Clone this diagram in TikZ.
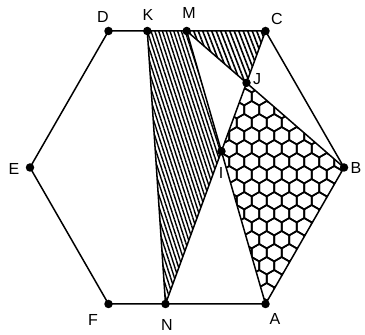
\documentclass[tikz,border=0pt]{standalone}
\usepackage{fontspec}
\setmainfont{Liberation Sans}
\usetikzlibrary{patterns.meta,calc}
\begin{document}
\begin{tikzpicture}[x=1pt,y=1pt,
  edge/.style={line width=1.5pt,line join=round},
  dot/.style={circle,fill=black,inner sep=0pt,minimum size=8.5pt},
  lbl/.style={font=\fontsize{16}{16}\selectfont,inner sep=0pt},
  hexline/.style={line width=1.6pt}]
\useasboundingbox (0,0) rectangle (365,335);
% vertices
\coordinate (A) at (265.5,31);
\coordinate (B) at (344,167.5);
\coordinate (C) at (265.5,304);
\coordinate (D) at (108.5,304);
\coordinate (E) at (30,167.5);
\coordinate (F) at (108.5,31);
\coordinate (K) at (147.3,304);
\coordinate (M) at (186.7,304);
\coordinate (N) at (165.5,31);
\coordinate (J) at (intersection of M--B and N--C);
\coordinate (I) at (intersection of M--A and N--C);
% hatched regions
\fill[pattern={Lines[angle=108,distance=3.6pt,line width=1.4pt]}] (K)--(M)--(I)--(N)--cycle;
\fill[pattern={Lines[angle=111,distance=4.2pt,line width=1.6pt]}] (M)--(C)--(J)--cycle;
% honeycomb
\begin{scope}
\clip (J)--(B)--(A)--(I)--cycle;
\foreach \j in {-12,...,8}{
  \foreach \i in {-3,...,7}{
    \pgfmathsetmacro\cx{251.7+15*\i+7.5*mod(abs(\j),2)}
    \pgfmathsetmacro\cy{173.3+13*\j}
    \draw[hexline] (\cx,\cy) +(30:8.66) -- +(90:8.66) -- +(150:8.66) -- +(210:8.66) -- +(270:8.66) -- +(330:8.66) -- cycle;
  }
}
\end{scope}
% lines
\draw[edge] (A)--(B)--(C)--(D)--(E)--(F)--cycle;
\draw[edge] (K)--(N);
\draw[edge] (N)--(C);
\draw[edge] (M)--(A);
\draw[edge] (M)--(B);
% dots
\foreach \p in {A,B,C,D,E,F,K,M,N,I,J}{\node[dot] (d\p) at (\p) {};}
% labels
\node[lbl] (lD) at (103,318) {D};
\node[lbl] (lK) at (148,320) {K};
\node[lbl] (lM) at (189,322) {M};
\node[lbl] (lC) at (277,316) {C};
\node[lbl] (lJ) at (257,256) {J};
\node[lbl] (lB) at (356,167) {B};
\node[lbl] (lA) at (275,16) {A};
\node[lbl] (lN) at (167,10) {N};
\node[lbl] (lF) at (93,15) {F};
\node[lbl] (lE) at (14,166) {E};
\node[lbl] (lI) at (221,162) {I};
\end{tikzpicture}
\end{document}
